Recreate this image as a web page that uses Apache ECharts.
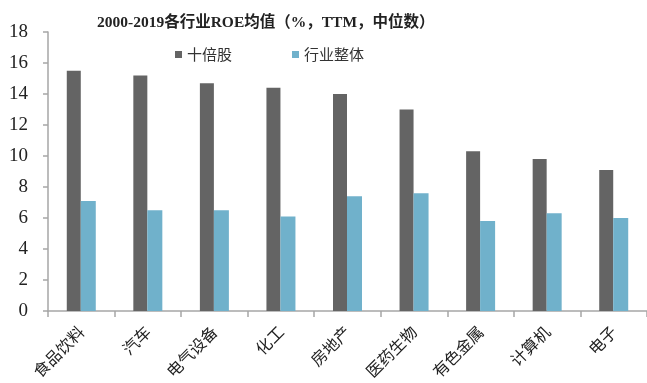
<!DOCTYPE html>
<html>
<head>
<meta charset="utf-8">
<script src="https://cdn.jsdelivr.net/npm/echarts@6/dist/echarts.min.js"></script>
<style>
	html,body{margin:0;padding:0;background:#fff;}
	#main{width:647px;height:383px;}
</style>
</head>
<body>
<div id="main"></div>
<script>
// 行业
var categories = ['食品饮料','汽车','电气设备','化工','房地产','医药生物','有色金属','计算机','电子'];
// 十倍股 ROE
var tenBagger = [15.5,15.2,14.7,14.4,14.0,13.0,10.3,9.8,9.1];
// 行业整体 ROE
var industryAll = [7.1,6.5,6.5,6.1,7.4,7.6,5.8,6.3,6.0];

var COLOR = {
	DARK:'#646464',
	LIGHT:'#70B1CB',
	AXIS:'#A6A6A6'
};

var myChart = echarts.init(document.getElementById('main'));
myChart.setOption({
	animation:false,
	title:{
		text:'2000-2019各行业ROE均值（%，TTM，中位数）',
		left:92,
		top:10,
		textStyle:{
			fontFamily:'"Liberation Serif","Noto Sans CJK SC"',
			fontWeight:'bold',
			fontSize:15.5,
			color:'#222'
		}
	},
	legend:{
		left:170,
		top:42,
		itemWidth:7,
		itemHeight:7,
		itemGap:60,
		icon:'rect',
		textStyle:{
			fontFamily:'"Noto Sans CJK SC"',
			fontSize:15,
			color:'#333'
		},
		data:['十倍股','行业整体']
	},
	grid:{
		left:48,
		right:0,
		top:32,
		bottom:72,
		containLabel:false
	},
	xAxis:{
		type:'category',
		data:categories,
		axisLine:{lineStyle:{color:COLOR.AXIS,width:1.5}},
		axisTick:{show:true,length:6,alignWithLabel:false,lineStyle:{color:COLOR.AXIS,width:1.5}},
		axisLabel:{
			interval:0,
			rotate:45,
			margin:18,
			fontFamily:'"Noto Sans CJK SC"',
			fontSize:16,
			color:'#222'
		}
	},
	yAxis:{
		type:'value',
		min:0,
		max:18,
		interval:2,
		splitLine:{show:false},
		axisLine:{show:true,lineStyle:{color:COLOR.AXIS,width:1.5}},
		axisTick:{show:true,length:5,lineStyle:{color:COLOR.AXIS,width:1.5}},
		axisLabel:{
			margin:20,
			fontFamily:'"Liberation Serif"',
			fontSize:19,
			color:'#222'
		}
	},
	series:[
		{
			name:'十倍股',
			type:'bar',
			data:tenBagger,
			barWidth:14,
			barGap:'0%',
			itemStyle:{color:COLOR.DARK}
		},
		{
			name:'行业整体',
			type:'bar',
			data:industryAll,
			barWidth:15,
			itemStyle:{color:COLOR.LIGHT}
		}
	]
});
</script>
</body>
</html>
